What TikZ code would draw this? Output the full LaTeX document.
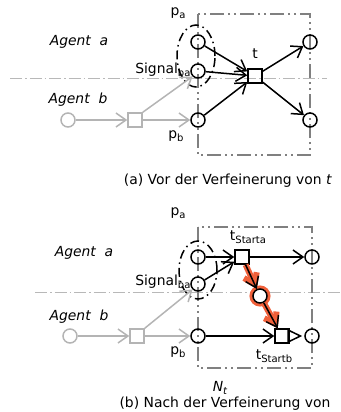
\documentclass[tikz,border=0pt]{standalone}
\usepackage{fontspec}
\setmainfont{DejaVu Sans}
\usetikzlibrary{arrows.meta,positioning}
\definecolor{ink}{HTML}{000000}
\definecolor{agentgray}{HTML}{B4B4B4}
\definecolor{framegray}{HTML}{808080}
\definecolor{sepgray}{HTML}{B8B8B8}
\definecolor{glow}{HTML}{F0603A}
\newcommand{\diagfont}{\fontsize{13.9}{16}\selectfont}
\newcommand{\subtxt}[1]{\raisebox{-.45ex}{\fontsize{10}{10}\selectfont#1}}
\tikzset{
  >={Straight Barb[length=10pt,width=14pt]},
  place/.style={circle,draw=ink,line width=1.5pt,minimum size=14pt,inner sep=0pt},
  trans/.style={rectangle,draw=ink,line width=1.5pt,minimum size=14pt,inner sep=0pt},
  ghostplace/.style={place,draw=agentgray},
  ghosttrans/.style={trans,draw=agentgray},
  arc/.style={->,line width=1.5pt,color=ink},
  ghostarc/.style={->,line width=1.5pt,color=agentgray},
  hotarc/.style={arc,preaction={draw=glow,line width=6pt}},
  frame/.style={draw=framegray,line width=2pt,dash pattern=on 14pt off 4pt on 2pt off 4pt on 2pt off 4pt},
  divider/.style={draw=sepgray,line width=1pt,dash pattern=on 12pt off 3pt on 1.5pt off 3pt},
  group/.style={draw=ink,line width=1.5pt,dash pattern=on 9pt off 4pt on 1.5pt off 4pt},
  agent/.style={font=\diagfont\itshape},
}
\begin{document}
\begin{tikzpicture}[x=1pt,y=-1pt,every node/.append style={font=\diagfont}]
  \useasboundingbox (0,0) rectangle (340,412);

  % (a) before the refinement
  \draw[divider] (10,78) -- (327,78);
  \draw[frame] (198,14) rectangle (310,155);
  \draw[group] (196,56) ellipse [x radius=19pt,y radius=31pt];
  \node[place] (pa) at (198,42) {};
  \node[place] (sig) at (198,71) {};
  \node[place] (pb) at (198,120) {};
  \node[trans] (t) at (255,76) {};
  \node[place] (outa) at (310,42) {};
  \node[place] (outb) at (310,120) {};
  \node[ghostplace] (bstart) at (68,120) {};
  \node[ghosttrans] (bsend) at (135,120) {};
  \node[agent] (agenta) at (79,42) {Agent\ \ a};
  \node[agent] (agentb) at (78,100) {Agent\ \ b};
  \node (lpa) at (178,13) {p\subtxt{a}};
  \node (lpb) at (176,136) {p\subtxt{b}};
  \node[anchor=east] (lsig) at (194,70) {Signal\subtxt{ba}};
  \node[above=6pt of t] (lt) {t};
  \draw[ghostarc] (bstart) -- (bsend);
  \draw[ghostarc] (bsend) -- (pb);
  \draw[ghostarc] (bsend.north east) -- (sig.south west);
  \draw[arc] (pa) -- (t);
  \draw[arc] (sig) -- (t);
  \draw[arc] (pb) -- (t);
  \draw[arc] (t) -- (outa);
  \draw[arc] (t) -- (outb);
  \node (capa) at (228,181) {(a) Vor der Verfeinerung von \textit{t}};

  % (b) after the refinement
  \draw[divider] (35,292) -- (340,292);
  \draw[frame] (198,227) rectangle (312,368);
  \draw[group] (198,270) ellipse [x radius=19pt,y radius=29pt];
  \node[place] (pa2) at (198,257) {};
  \node[place] (sig2) at (198,284) {};
  \node[place] (pb2) at (198,336) {};
  \node[trans] (tsa) at (242,257) {};
  \node[place,fill=white,preaction={draw=glow,line width=7pt}] (mid) at (260,296) {};
  \node[trans] (tsb) at (282,336) {};
  \node[place] (outa2) at (312,257) {};
  \node[place] (outb2) at (312,336) {};
  \node[ghostplace] (bstart2) at (70,336) {};
  \node[ghosttrans] (bsend2) at (137,336) {};
  \node[agent] (agenta2) at (84,253) {Agent\ \ a};
  \node[agent] (agentb2) at (79,317) {Agent\ \ b};
  \node (lpa2) at (178,213) {p\subtxt{a}};
  \node (lpb2) at (178,352) {p\subtxt{b}};
  \node[anchor=east] (lsig2) at (194,282) {Signal\subtxt{ba}};
  \node[above=2pt of tsa,xshift=6pt] (ltsa) {t\subtxt{Starta}};
  \node[below=2pt of tsb,xshift=-8pt] (ltsb) {t\subtxt{Startb}};
  \draw[ghostarc] (bstart2) -- (bsend2);
  \draw[ghostarc] (bsend2) -- (pb2);
  \draw[ghostarc] (bsend2.north east) -- (sig2.south west);
  \draw[arc] (pa2) -- (tsa);
  \draw[arc] (sig2) -- (tsa);
  \draw[arc] (tsa) -- (outa2);
  \draw[arc] (pb2) -- (tsb);
  \draw[hotarc] (tsa) -- (mid);
  \draw[hotarc] (mid) -- (tsb);
  \draw[line width=1.5pt,draw=ink,-{Triangle[open,length=15pt,width=14pt]},shorten >=2pt] (tsb.east) -- (outb2.west);
  \node (nt) at (220,388) {\itshape N\subtxt{t}};
  \node (capb) at (225,404) {(b) Nach der Verfeinerung von};
\end{tikzpicture}
\end{document}
